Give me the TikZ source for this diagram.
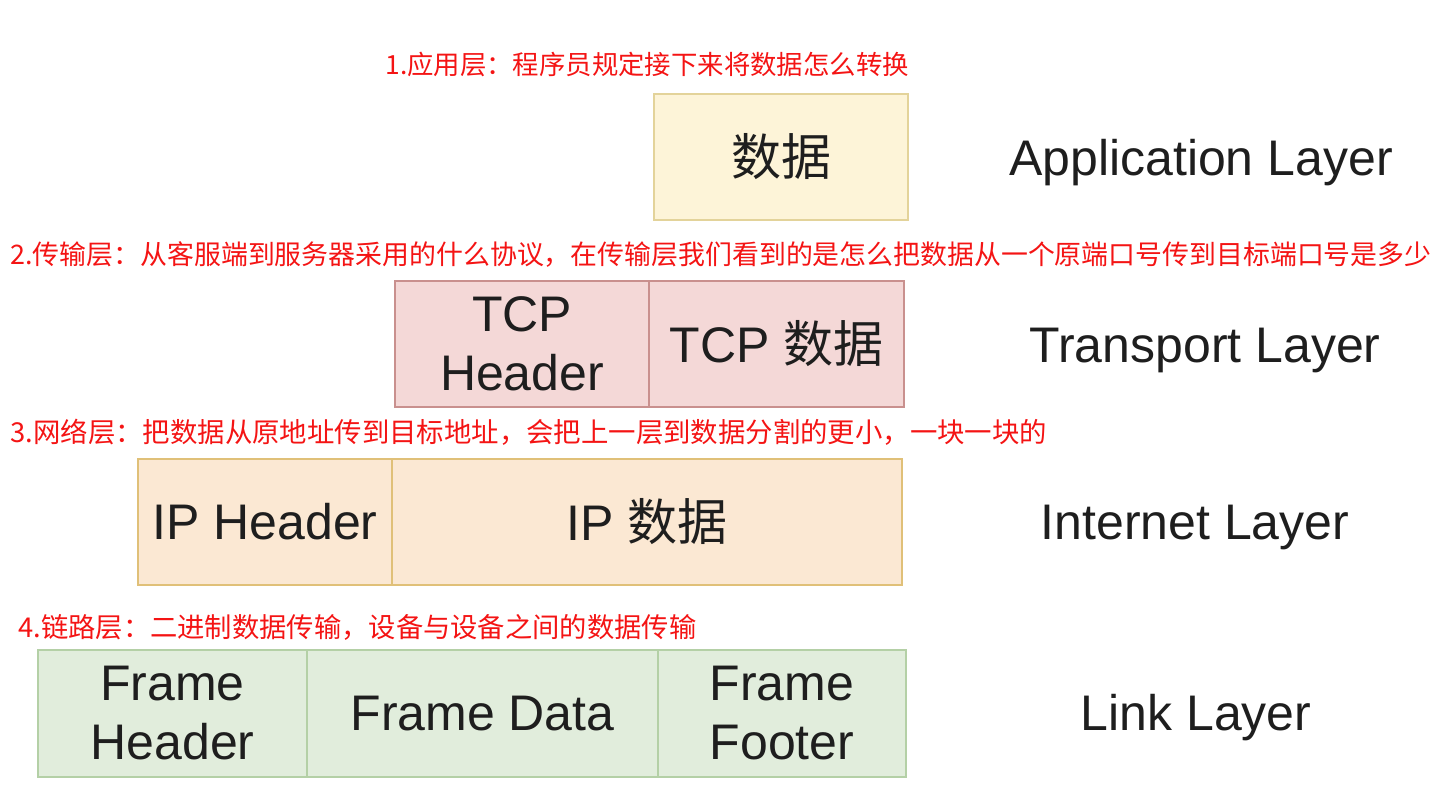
\documentclass[tikz,border=0pt]{standalone}
\usepackage{fontspec}
\setmainfont{Liberation Sans}
\newfontfamily\cjk{Noto Sans CJK SC}
\usetikzlibrary{positioning}
\definecolor{appfill}{HTML}{FDF4D8}
\definecolor{appborder}{HTML}{E3D39A}
\definecolor{tcpfill}{HTML}{F4D8D7}
\definecolor{tcpborder}{HTML}{C9908E}
\definecolor{ipfill}{HTML}{FBE8D3}
\definecolor{ipborder}{HTML}{E0C078}
\definecolor{linkfill}{HTML}{E1EDDC}
\definecolor{linkborder}{HTML}{B4D0A6}
\definecolor{notered}{HTML}{F41414}
\definecolor{darktext}{HTML}{1E1E1E}
\tikzset{
  cell/.style={rectangle, draw, line width=1pt, inner sep=0pt, outer sep=0pt, align=center, text=darktext, minimum height=63pt, font=\fontsize{25}{29.5}\selectfont},
  appcell/.style={cell, fill=appfill, draw=appborder},
  tcpcell/.style={cell, fill=tcpfill, draw=tcpborder},
  ipcell/.style={cell, fill=ipfill, draw=ipborder},
  linkcell/.style={cell, fill=linkfill, draw=linkborder},
  layer/.style={text=darktext, font=\fontsize{25}{29}\selectfont},
  note/.style={anchor=west, inner sep=0pt, text=notered}
}
\begin{document}
\begin{tikzpicture}[x=0.5pt, y=-0.5pt]
\useasboundingbox (0,0) rectangle (1442,812);

% notes
\node[note, font=\cjk\fontsize{13.2}{15}\selectfont] (note1) at (385,64) {1.应用层：程序员规定接下来将数据怎么转换};
\node[note, font=\cjk\fontsize{13.45}{15}\selectfont] (note2) at (10,255) {2.传输层：从客服端到服务器采用的什么协议，在传输层我们看到的是怎么把数据从一个原端口号传到目标端口号是多少};
\node[note, font=\cjk\fontsize{13.7}{15}\selectfont] (note3) at (10,432) {3.网络层：把数据从原地址传到目标地址，会把上一层到数据分割的更小，一块一块的};
\node[note, font=\cjk\fontsize{13.65}{15}\selectfont] (note4) at (18,627) {4.链路层：二进制数据传输，设备与设备之间的数据传输};

% application
\node[appcell, minimum width=127pt] (appdata) at (781,157) {\cjk 数据};

% transport
\node[tcpcell, minimum width=127pt] (tcphdr) at (522,344) {TCP\\Header};
\node[tcpcell, minimum width=127.5pt, right=0pt of tcphdr] (tcpdata) {TCP {\cjk 数据}};

% internet
\node[ipcell, minimum width=127pt] (iphdr) at (265,522) {IP Header};
\node[ipcell, minimum width=255pt, right=0pt of iphdr] (ipdata) {IP {\cjk 数据}};

% link
\node[linkcell, minimum width=134.5pt] (framehdr) at (172.5,713.5) {Frame\\Header};
\node[linkcell, minimum width=175.5pt, right=0pt of framehdr] (framedata) {Frame Data};
\node[linkcell, minimum width=124pt, right=0pt of framedata] (framefoot) {Frame\\Footer};

% layer names
\node[layer] (applayer) at (1201,163) {Application Layer};
\node[layer] (translayer) at (1205,350) {Transport Layer};
\node[layer] (netlayer) at (1195,527) {Internet Layer};
\node[layer] (linklayer) at (1196,718) {Link Layer};

\end{tikzpicture}
\end{document}
